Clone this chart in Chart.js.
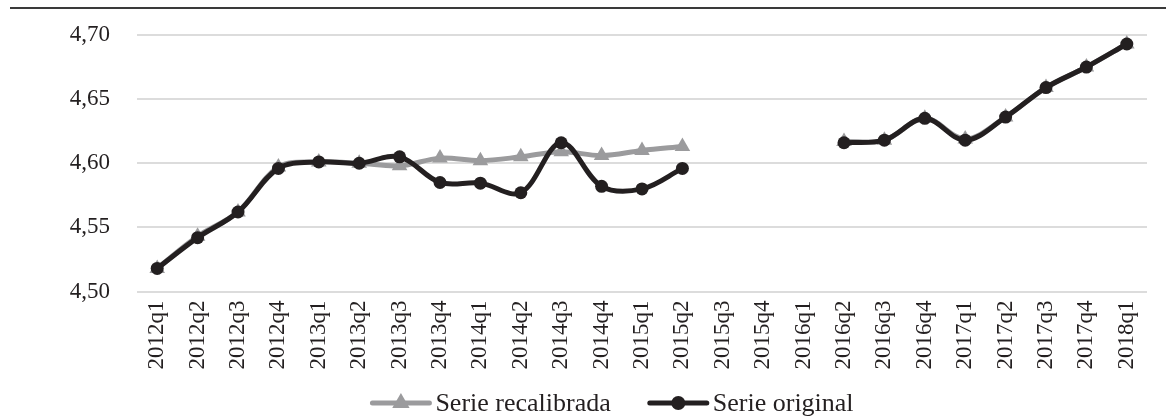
<!DOCTYPE html>
<html><head><meta charset="utf-8">
<script src="https://cdn.jsdelivr.net/npm/chart.js@4/dist/chart.umd.min.js"></script>
<style>html,body{margin:0;padding:0;background:#fff}#wrap{width:1174px;height:417px;position:relative}</style>
</head><body><div id="wrap"><canvas id="c" width="1174" height="417"></canvas></div>
<script>
const categories = ['2012q1','2012q2','2012q3','2012q4','2013q1','2013q2','2013q3','2013q4','2014q1','2014q2','2014q3','2014q4','2015q1','2015q2','2015q3','2015q4','2016q1','2016q2','2016q3','2016q4','2017q1','2017q2','2017q3','2017q4','2018q1'];
const serieRecalibrada = [4.518,4.543,4.562,4.597,4.601,4.600,4.598,4.604,4.602,4.605,4.609,4.606,4.610,4.613,null,null,null,4.617,4.618,4.635,4.619,4.636,4.659,4.675,4.693];
const serieOriginal = [4.518,4.542,4.562,4.596,4.601,4.600,4.605,4.585,4.5845,4.577,4.616,4.582,4.580,4.596,null,null,null,4.616,4.618,4.635,4.618,4.636,4.659,4.675,4.693];
const yTickValues = [4.50,4.55,4.60,4.65,4.70];
const seriesLabels = ['Serie recalibrada','Serie original'];

const GRAY = '#9b9b9d';
const BLACK = '#231f20';
const FONT = '"Liberation Serif", "Times New Roman", serif';

const frame = {
  id: 'frame',
  beforeDraw(chart) {
    const ctx = chart.ctx;
    ctx.save();
    ctx.fillStyle = '#fff';
    ctx.fillRect(0, 0, chart.width, chart.height);
    ctx.strokeStyle = '#3a3a3a';
    ctx.lineWidth = 2;
    ctx.beginPath();
    ctx.moveTo(10, 8);
    ctx.lineTo(1166, 8);
    ctx.stroke();
    ctx.restore();
  }
};

const legendPlugin = {
  id: 'lineLegend',
  afterDraw(chart) {
    const ctx = chart.ctx;
    ctx.save();
    ctx.font = '26px ' + FONT;
    const lineLen = 61, gapText = 4, gapItems = 37;
    const ds = chart.data.datasets;
    const widths = ds.map(d => lineLen + gapText + ctx.measureText(d.label).width);
    const total = widths.reduce((a, b) => a + b, 0) + gapItems * (ds.length - 1);
    let x = 612 - total / 2;
    const y = 403;
    ds.forEach((d, i) => {
      ctx.strokeStyle = d.borderColor;
      ctx.lineWidth = 5;
      ctx.lineCap = 'round';
      ctx.beginPath();
      ctx.moveTo(x + 2, y);
      ctx.lineTo(x + lineLen - 2, y);
      ctx.stroke();
      const cx = x + lineLen / 2;
      ctx.fillStyle = d.pointBackgroundColor;
      ctx.beginPath();
      if (d.pointStyle === 'triangle') {
        const r = 10;
        ctx.moveTo(cx, y - r);
        ctx.lineTo(cx + r * Math.sin(Math.PI * 2 / 3), y + r * 0.5);
        ctx.lineTo(cx - r * Math.sin(Math.PI * 2 / 3), y + r * 0.5);
        ctx.closePath();
      } else {
        ctx.arc(cx, y, 7, 0, Math.PI * 2);
      }
      ctx.fill();
      ctx.fillStyle = BLACK;
      ctx.textBaseline = 'middle';
      ctx.textAlign = 'left';
      ctx.fillText(d.label, x + lineLen + gapText, y + 1);
      x += widths[i] + gapItems;
    });
    ctx.restore();
  }
};

new Chart(document.getElementById('c'), {
  type: 'line',
  data: {
    labels: categories,
    datasets: [
      {
        label: seriesLabels[0], data: serieRecalibrada,
        borderColor: GRAY, backgroundColor: GRAY, pointBackgroundColor: GRAY,
        pointBorderWidth: 0, pointStyle: 'triangle', pointRadius: 9,
        borderWidth: 5, tension: 0.35, spanGaps: false, order: 1
      },
      {
        label: seriesLabels[1], data: serieOriginal,
        borderColor: BLACK, backgroundColor: BLACK, pointBackgroundColor: BLACK,
        pointBorderWidth: 0, pointStyle: 'circle', pointRadius: 6.5,
        borderWidth: 5, tension: 0.35, spanGaps: false, order: 0
      }
    ]
  },
  options: {
    responsive: false,
    animation: false,
    devicePixelRatio: 1,
    layout: { autoPadding: false, padding: { top: 35, right: 27, left: 0, bottom: 0 } },
    plugins: { legend: { display: false }, tooltip: { enabled: false } },
    scales: {
      x: {
        offset: true,
        grid: { display: false, drawTicks: false },
        border: { display: false },
        ticks: {
          autoSkip: false, maxRotation: 90, minRotation: 90, padding: 9,
          color: BLACK, font: { family: FONT, size: 23 }
        },
        afterFit(scale) { scale.height = 125.5; }
      },
      y: {
        min: 4.50, max: 4.70,
        grid: { color: '#dcdcdc', lineWidth: 2, drawTicks: false },
        border: { display: false },
        afterBuildTicks(scale) { scale.ticks = yTickValues.map(v => ({ value: v })); },
        ticks: {
          padding: 27, color: BLACK, font: { family: FONT, size: 23 },
          callback: v => Number(v).toFixed(2).replace('.', ',')
        },
        afterFit(scale) { scale.width = 137; scale.paddingTop = 0; scale.paddingBottom = 0; }
      }
    }
  },
  plugins: [frame, legendPlugin]
});
</script>
</body></html>
